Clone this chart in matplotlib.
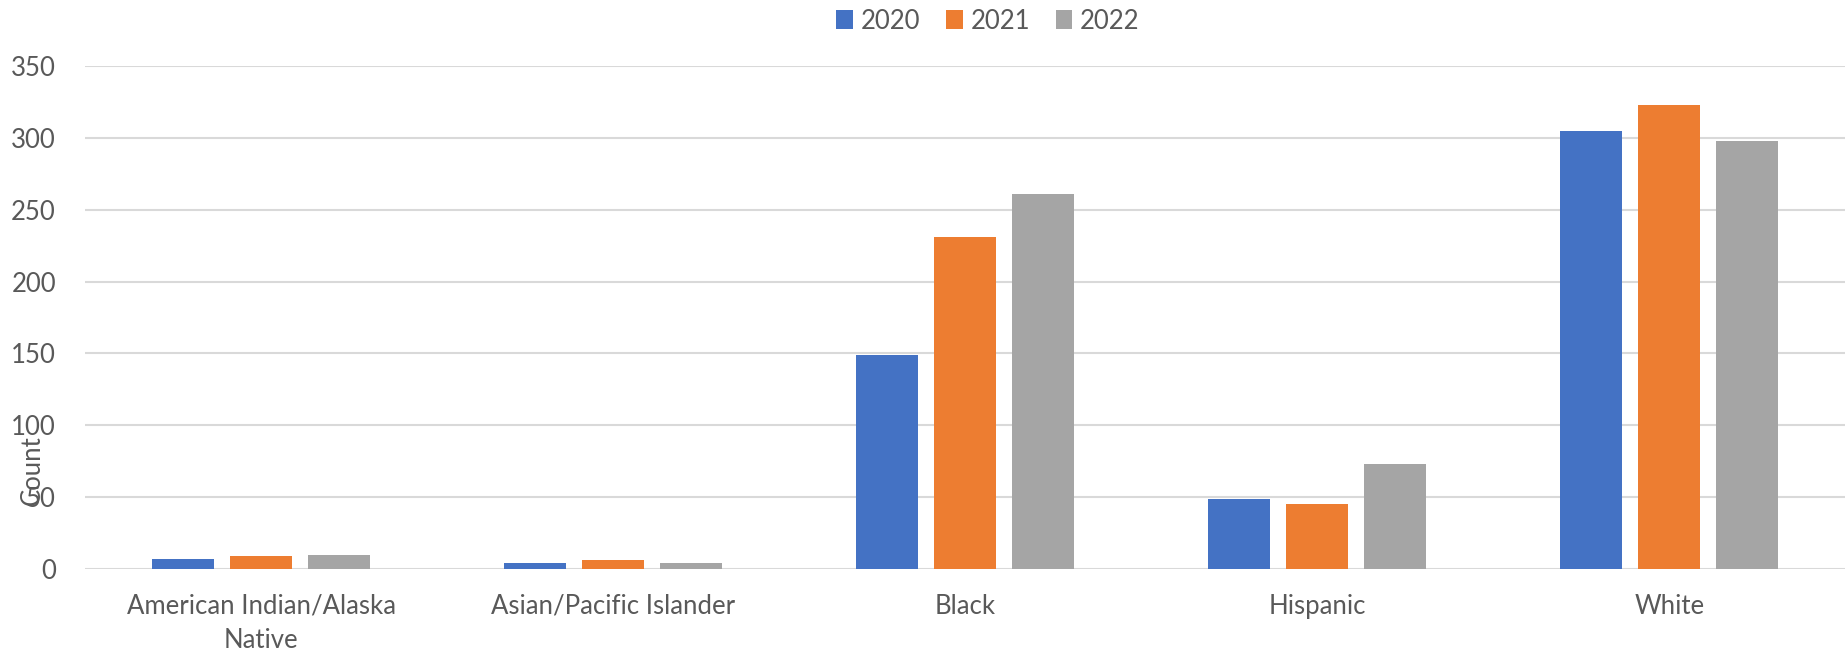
import numpy as np
import matplotlib.pyplot as plt

# data ----------------------------------
categories = ["American Indian/Alaska\nNative", "Asian/Pacific Islander", "Black", "Hispanic", "White"]
years = ["2020", "2021", "2022"]
counts_2020 = [7, 4, 149, 49, 305]
counts_2021 = [9, 6, 231, 45, 323]
counts_2022 = [10, 4, 261, 73, 298]
colors = ["#4472C4", "#ED7D31", "#A5A5A5"]

plt.rcParams['font.family'] = ['Lato', 'DejaVu Sans']
text_col = "#595959"

fig = plt.figure(figsize=(18.49, 6.55), dpi=100)
ax = fig.add_axes([0.046, 0.1313, 0.952, 0.768])

x = np.arange(len(categories))
width = 0.176
step = 0.221
for i, (vals, yr) in enumerate(zip([counts_2020, counts_2021, counts_2022], years)):
    ax.bar(x + (i - 1) * step, vals, width, color=colors[i], label=yr, zorder=3)

ax.set_xlim(-0.5, len(categories) - 0.5)
ax.set_ylim(0, 350)
ax.set_yticks(np.arange(0, 351, 50))
ax.set_xticks(x)
ax.set_xticklabels(categories, fontsize=18.5, color=text_col, linespacing=1.45)
ax.tick_params(axis='y', labelsize=18.5, labelcolor=text_col, length=0, pad=21)
ax.tick_params(axis='x', length=0, pad=18)
ax.grid(axis='y', color="#D9D9D9", linewidth=1.5, zorder=0)
for s in ax.spines.values():
    s.set_visible(False)

ax.set_ylabel("Count", fontsize=18.5, color=text_col)
ax.yaxis.set_label_coords(-0.023, 0.196)

leg = ax.legend(loc='center', bbox_to_anchor=(0.513, 1.089), ncol=3, frameon=False,
                fontsize=18.5, handlelength=0.65, handleheight=0.75, handletextpad=0.3, columnspacing=1.0)
for t in leg.get_texts():
    t.set_color(text_col)

fig.savefig("out.png", dpi=100)
